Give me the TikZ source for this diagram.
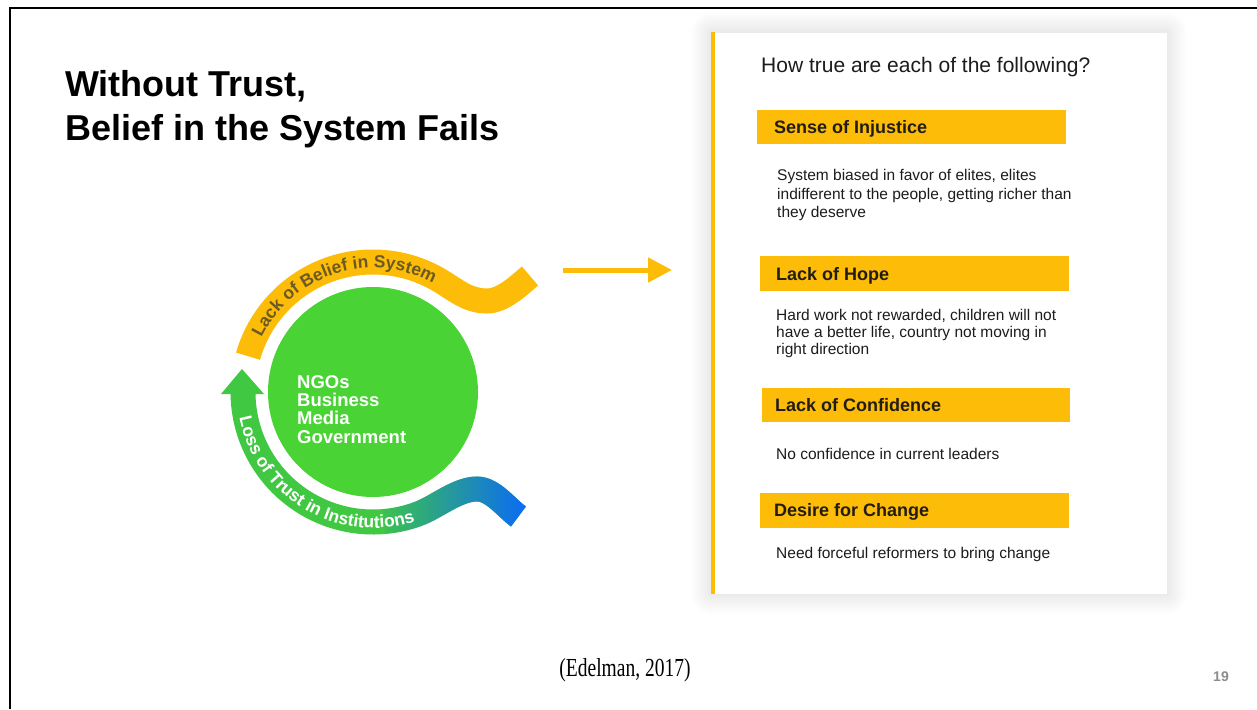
\documentclass[tikz,border=0pt]{standalone}
\usepackage{fontspec}
\setmainfont{Liberation Sans}
\newfontfamily\citefont[FakeStretch=0.75]{Liberation Serif}
\usetikzlibrary{arrows.meta,decorations.text,fadings}

\definecolor{sunyellow}{RGB}{252,188,8}
\definecolor{leafgreen}{RGB}{74,211,52}
\definecolor{bandgreen}{RGB}{64,200,66}
\definecolor{tailblue}{RGB}{10,105,250}
\definecolor{bandtext}{RGB}{108,90,36}
\definecolor{inktext}{RGB}{28,28,28}
\definecolor{labelink}{RGB}{34,28,18}
\definecolor{pagegray}{RGB}{140,140,140}

\newcommand\bandfont{\fontsize{17.5}{17.5}\selectfont\bfseries}

% horizontal fade used to tint the lower tail towards blue
\tikzfading[name=tailfade, left color=transparent!100, right color=transparent!0]

\tikzset{
  band/.style={line width=25pt, line cap=butt},
  barbox/.style={fill=sunyellow, inner sep=0pt, minimum height=34pt, minimum width=309pt},
  barlabel/.style={anchor=base west, inner sep=0pt, text=labelink, font=\fontsize{18}{18}\selectfont\bfseries},
  bodyline/.style={anchor=base west, inner sep=0pt, text=inktext, font=\fontsize{15.5}{15.5}\selectfont},
  hubline/.style={anchor=base west, inner sep=0pt, text=white, font=\fontsize{18.5}{18.5}\selectfont\bfseries},
  titleline/.style={anchor=base west, inner sep=0pt, text=black, font=\fontsize{36}{36}\selectfont\bfseries},
}

\begin{document}
\begin{tikzpicture}[x=1pt,y=1pt]
\useasboundingbox (0,0) rectangle (1257,-709);
\fill[white] (0,0) rectangle (1257,-709);

% frame lines at top and left
\draw[line width=2.2pt, black] (10,-709) -- (10,-8) -- (1257,-8);

% title
\node[titleline] (title1) at (65,-96) {Without Trust,};
\node[titleline] (title2) at (65,-140) {Belief in the System Fails};

% central circle
\node[circle, fill=leafgreen, minimum size=210pt, inner sep=0pt] (hub) at (373,-392) {};
\node[hubline] (hub1) at (297,-388) {NGOs};
\node[hubline] (hub2) at (297,-406.4) {Business};
\node[hubline] (hub3) at (297,-424.8) {Media};
\node[hubline] (hub4) at (297,-443.2) {Government};

% upper band: lack of belief
\draw[band, sunyellow] ([shift={(164:130)}]hub.center) arc[start angle=164, end angle=60, radius=130]
  .. controls (455.3,-289.4) and (467,-301) .. (487,-301)
  .. controls (503,-301) and (519.3,-285) .. (530,-276);
\path[decorate, decoration={text along path,
    text={|\bandfont\color{bandtext}|Lack of Belief in System}}]
  ([shift={(154:124)}]hub.center) arc[start angle=154, end angle=40, radius=124];

% lower band: loss of trust, ending in an arrow head
\draw[band, bandgreen] ([shift={(178:130)}]hub.center) arc[start angle=178, end angle=290, radius=130]
  .. controls (436.3,-507.4) and (457,-489) .. (477,-489)
  .. controls (493,-489) and (507,-508.5) .. (518.5,-516.5);
\draw[band, tailblue, path fading=tailfade] ([shift={(275:130)}]hub.center) arc[start angle=275, end angle=290, radius=130]
  .. controls (436.3,-507.4) and (457,-489) .. (477,-489)
  .. controls (493,-489) and (507,-508.5) .. (518.5,-516.5);
\fill[bandgreen] (242,-369) -- (221,-394) -- (264,-394) -- cycle;
\path[decorate, decoration={text along path,
    text={|\bandfont\color{white}|Loss of Trust in Institutions}}]
  ([shift={(191:136)}]hub.center) arc[start angle=191, end angle=300, radius=136];

% arrow towards the survey card
\coordinate (arrowfrom) at (563,-270);
\coordinate (arrowto) at (672,-270);
\draw[sunyellow, line width=5pt, -{Triangle[length=24pt,width=24pt]}] (arrowfrom) -- (arrowto);

% survey card with soft shadow
\foreach \s in {1,...,20} {
  \fill[black, opacity=0.0045, rounded corners=\s pt] ({711-\s},{-32+\s}) rectangle ({1167+\s},{-594-\s});
}
\fill[white, draw=black!8, line width=0.6pt] (711,-32) rectangle (1167,-594);
\fill[sunyellow] (711,-32) rectangle (715,-594);

\node[anchor=base west, inner sep=0pt, text=inktext, font=\fontsize{21}{21}\selectfont] (question) at (761,-73) {How true are each of the following?};

\node[barbox] (bar1) at (911.5,-127) {};
\node[barlabel] (lab1) at (774,-133) {Sense of Injustice};
\node[bodyline] (inj1) at (777,-180.7) {System biased in favor of elites, elites};
\node[bodyline] (inj2) at (777,-199.2) {indifferent to the people, getting richer than};
\node[bodyline] (inj3) at (777,-217.7) {they deserve};

\node[barbox, minimum height=35pt] (bar2) at (914.5,-273.5) {};
\node[barlabel] (lab2) at (776,-280) {Lack of Hope};
\node[bodyline] (hope1) at (776,-320) {Hard work not rewarded, children will not};
\node[bodyline] (hope2) at (776,-337.3) {have a better life, country not moving in};
\node[bodyline] (hope3) at (776,-354.6) {right direction};

\node[barbox, minimum width=308pt] (bar3) at (916,-405) {};
\node[barlabel] (lab3) at (775,-411) {Lack of Confidence};
\node[bodyline] (conf1) at (776,-459) {No confidence in current leaders};

\node[barbox, minimum height=35pt] (bar4) at (914.5,-510.5) {};
\node[barlabel] (lab4) at (774,-516.7) {Desire for Change};
\node[bodyline] (chg1) at (776,-558) {Need forceful reformers to bring change};

% footer
\node[inner sep=0pt, text=black, font=\citefont\fontsize{26}{26}\selectfont] (cite) at (625,-670) {(Edelman, 2017)};
\node[inner sep=0pt, text=pagegray, font=\fontsize{14}{14}\selectfont\bfseries] (pageno) at (1221,-677) {19};
\end{tikzpicture}
\end{document}
